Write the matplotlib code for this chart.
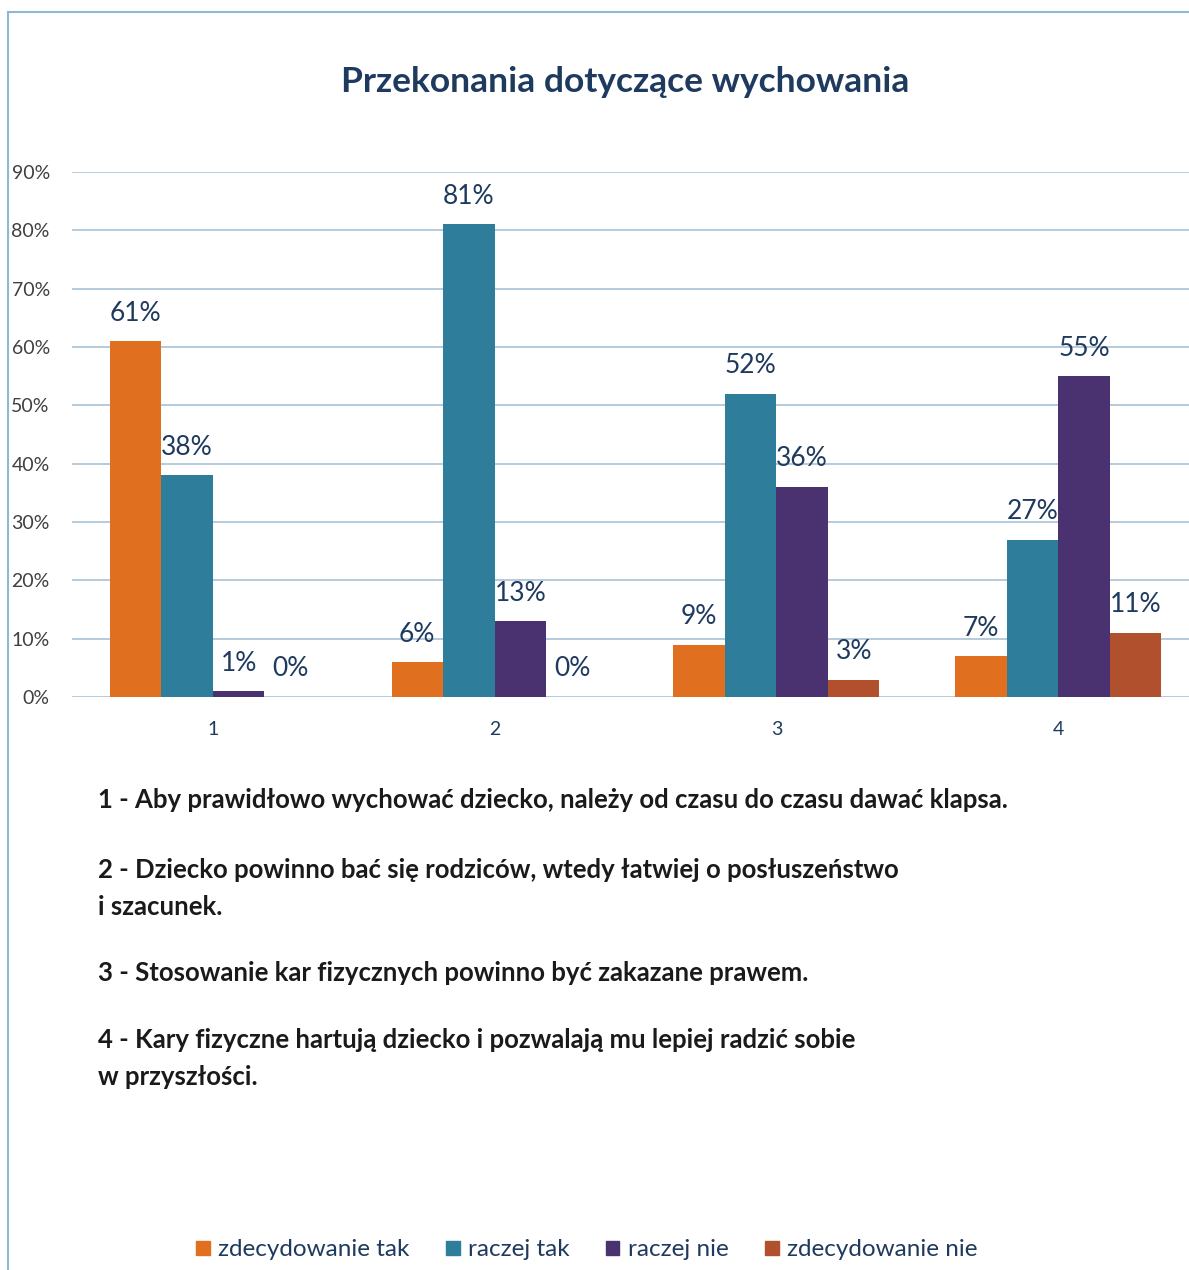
import matplotlib.pyplot as plt
import numpy as np
from matplotlib.lines import Line2D
from matplotlib.patches import Patch

plt.rcParams['font.family'] = ['Lato', 'DejaVu Sans']

# dane z wykresu
pytania = ['1', '2', '3', '4']
serie = ['zdecydowanie tak', 'raczej tak', 'raczej nie', 'zdecydowanie nie']
zdecydowanie_tak = [61, 6, 9, 7]
raczej_tak = [38, 81, 52, 27]
raczej_nie = [1, 13, 36, 55]
zdecydowanie_nie = [0, 0, 3, 11]
wartosci = [zdecydowanie_tak, raczej_tak, raczej_nie, zdecydowanie_nie]
kolory = ['#E0701F', '#2E7E9B', '#4A3170', '#B0502C']

opisy = [
    '1 - Aby prawidłowo wychować dziecko, należy od czasu do czasu dawać klapsa.',
    '2 - Dziecko powinno bać się rodziców, wtedy łatwiej o posłuszeństwo\ni szacunek.',
    '3 - Stosowanie kar fizycznych powinno być zakazane prawem.',
    '4 - Kary fizyczne hartują dziecko i pozwalają mu lepiej radzić sobie\nw przyszłości.',
]
opisy_y = [800, 870, 973, 1040]  # pozycje w pikselach od góry

W, H = 1189, 1270
fig = plt.figure(figsize=(W / 100, H / 100), dpi=100)
fig.patch.set_facecolor('white')

# obramowanie wykresu
ramka = '#8FB8D4'
fig.add_artist(Line2D([8 / W, 8 / W], [0, 1 - 12 / H], color=ramka, lw=1.5))
fig.add_artist(Line2D([8 / W, 1], [1 - 12 / H, 1 - 12 / H], color=ramka, lw=1.5))

ax = fig.add_axes([72 / W, 1 - 697 / H, (1199 - 72) / W, (697 - 172) / H])
x = np.arange(len(pytania))
szer = 0.183
for i, (vals, kol) in enumerate(zip(wartosci, kolory)):
    pos = x + (i - 1.5) * szer
    ax.bar(pos, np.array(vals) / 100, width=szer, color=kol, zorder=3)
    for p, v in zip(pos, vals):
        ax.annotate(f'{v}%', (p, v / 100), xytext=(0, 28), textcoords='offset pixels',
                    ha='center', va='center', fontsize=19, color='#1F3A5F', zorder=4)

ax.set_xlim(-0.5, 3.5)
ax.set_ylim(0, 0.9)
ax.set_yticks(np.arange(0, 0.91, 0.1))
ax.set_yticklabels([f'{int(round(t * 100))}%' for t in np.arange(0, 0.91, 0.1)])
ax.set_xticks(x)
ax.set_xticklabels(pytania)
ax.tick_params(axis='y', length=0, pad=16, labelsize=14, labelcolor='#404040')
ax.tick_params(axis='x', length=0, pad=17, labelsize=14, labelcolor='#1F3A5F')
ax.grid(axis='y', color='#A0BDD2', lw=1.1, zorder=0)
for s in ax.spines.values():
    s.set_visible(False)
ax.set_facecolor('none')

fig.text(625 / W, 1 - 82 / H, 'Przekonania dotyczące wychowania', ha='center', va='center',
         fontsize=25.5, fontweight='bold', color='#1F3A5F')

# opisy pytań, każdy wiersz osobno
for t, yy in zip(opisy, opisy_y):
    for k, wiersz in enumerate(t.split('\n')):
        fig.text(98 / W, 1 - (yy + k * 37) / H, wiersz, ha='left', va='center',
                 fontsize=18.5, fontweight='bold', color='#1A1A1A')

uchwyty = [Patch(color=k) for k in kolory]
fig.legend(uchwyty, serie, loc='center', bbox_to_anchor=(587 / W, 1 - 1250 / H), ncol=4,
           frameon=False, fontsize=17.5, handlelength=0.55, handleheight=0.55,
           handletextpad=0.35, columnspacing=1.5, labelcolor='#1F3A5F')

fig.savefig('out.png', dpi=100)
